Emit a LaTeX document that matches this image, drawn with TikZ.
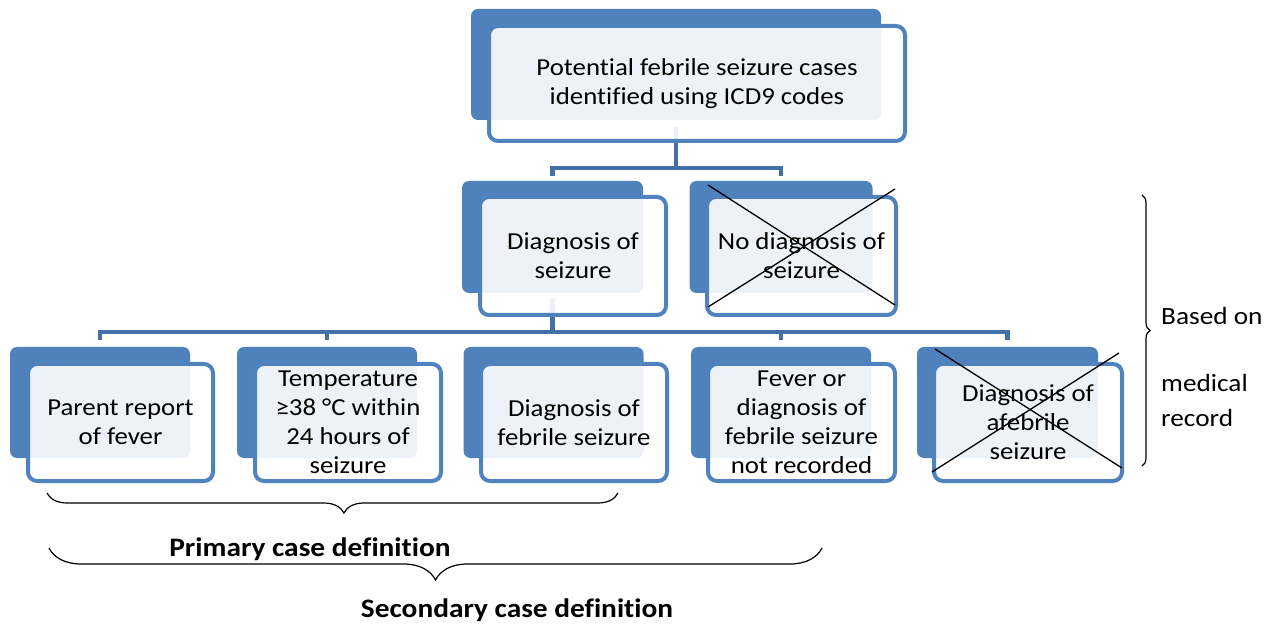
\documentclass[tikz,border=0pt]{standalone}
\usepackage{fontspec}
\setmainfont{Carlito}[FakeStretch=1.1, Ligatures=NoCommon]
\usetikzlibrary{decorations.pathreplacing}
\definecolor{backblue}{HTML}{4F81BD}
\definecolor{edgeblue}{HTML}{5082BE}
\definecolor{connblue}{HTML}{4470A8}
\tikzset{
  backbox/.style={fill=backblue, draw=none, rounded corners=7pt, inner sep=0pt},
  frontbox/.style={draw=edgeblue, line width=4pt, fill=white, fill opacity=0.9, text opacity=1,
    rounded corners=9pt, inner sep=0pt, align=center, text=black,
    font=\fontsize{24.4}{29}\selectfont},
  conn/.style={draw=connblue, line width=4.5pt},
  xline/.style={draw=black, line width=1.3pt},
  lbl/.style={font=\fontsize{24.8}{29}\selectfont, inner sep=0pt},
  blbl/.style={font=\fontsize{26.7}{29}\selectfont\bfseries, inner sep=0pt},
  bracedeco/.style={draw=black, line width=1.2pt, decorate}
}
\begin{document}
\begin{tikzpicture}[x=1pt, y=-1pt]
\useasboundingbox (0,0) rectangle (1286,628);

% ---------- back boxes ----------
\node[backbox, minimum width=410pt, minimum height=111pt] (tb) at (676,64.5) {};
\node[backbox, minimum width=181pt, minimum height=112pt] (b21) at (552.5,237) {};
\node[backbox, minimum width=183pt, minimum height=112pt] (b22) at (781,237) {};
\node[backbox, minimum width=180pt, minimum height=111pt] (b31) at (100,402.5) {};
\node[backbox, minimum width=180pt, minimum height=111pt] (b32) at (327,402.5) {};
\node[backbox, minimum width=180pt, minimum height=111pt] (b33) at (553.5,402.5) {};
\node[backbox, minimum width=180pt, minimum height=111pt] (b34) at (781,402.5) {};
\node[backbox, minimum width=181pt, minimum height=111pt] (b35) at (1007.5,402.5) {};

% ---------- connectors ----------
\draw[conn] ([yshift=-7pt]tb.south) -- ++(0,41) coordinate (j1);
\draw[conn] ([yshift=5pt]b21.north) |- (j1) -| ([yshift=5pt]b22.north);
\draw[conn] ([yshift=-5pt]b21.south) -- ++(0,34) coordinate (j2);
\draw[conn] ([yshift=7pt]b31.north) |- (j2) -| ([yshift=7pt]b35.north);
\draw[conn] (b32.north |- j2) -- ([yshift=7pt]b32.north);
\draw[conn] (b34.north |- j2) -- ([yshift=7pt]b34.north);

% ---------- front boxes ----------
\node[frontbox, minimum width=416pt, minimum height=115pt] (ft) at (697,83.5)
  {Potential febrile seizure cases\\identified using ICD9 codes};
\node[frontbox, minimum width=186pt, minimum height=118pt] (f21) at (573,256)
  {Diagnosis of\\seizure};
\node[frontbox, minimum width=189pt, minimum height=118pt] (f22) at (801.5,256)
  {No diagnosis of\\seizure};
\node[frontbox, minimum width=185pt, minimum height=117pt] (f31) at (120.5,422.5)
  {Parent report\\of fever};
\node[frontbox, minimum width=186pt, minimum height=117pt] (f32) at (348,422.5)
  {Temperature\\≥38~°C within\\24 hours of\\seizure};
\node[frontbox, minimum width=186pt, minimum height=117pt] (f33) at (574,422.5)
  {Diagnosis of\\febrile seizure};
\node[frontbox, minimum width=187pt, minimum height=117pt] (f34) at (801.5,422.5)
  {Fever or\\diagnosis of\\febrile seizure\\not recorded};
\node[frontbox, minimum width=188pt, minimum height=117pt] (f35) at (1028,422.5)
  {Diagnosis of\\afebrile\\seizure};

% ---------- crosses ----------
\draw[xline] ([shift={(-93.5,-71)}]f22.center) -- ([shift={(93.5,49)}]f22.center);
\draw[xline] ([shift={(-93.5,51)}]f22.center) -- ([shift={(93.5,-67)}]f22.center);
\draw[xline] ([shift={(-93,-73.5)}]f35.center) -- ([shift={(94,45.5)}]f35.center);
\draw[xline] ([shift={(-96,49.5)}]f35.center) -- ([shift={(91,-69.5)}]f35.center);

% ---------- braces ----------
\coordinate (rb1) at (1142,195);
\coordinate (rb2) at (1142,466);
\draw[bracedeco, decoration={brace, amplitude=8pt, aspect=0.5}] (rb1) -- (rb2);
\coordinate (pb1) at (618,493);
\coordinate (pb2) at (47,493);
\draw[bracedeco, decoration={brace, amplitude=20pt, aspect=0.48}] (pb1) -- (pb2);
\coordinate (sb1) at (822,548);
\coordinate (sb2) at (49,548);
\draw[bracedeco, decoration={brace, amplitude=32pt, aspect=0.5}] (sb1) -- (sb2);

% ---------- labels ----------
\node[lbl, anchor=west] (based) at (1161,316) {Based on};
\node[lbl, anchor=west] (medical) at (1161,383) {medical};
\node[lbl, anchor=west] (record) at (1161,418) {record};
\node[blbl] (prim) at (310,549) {Primary case definition};
\node[blbl] (sec) at (517,610) {Secondary case definition};
\end{tikzpicture}
\end{document}
